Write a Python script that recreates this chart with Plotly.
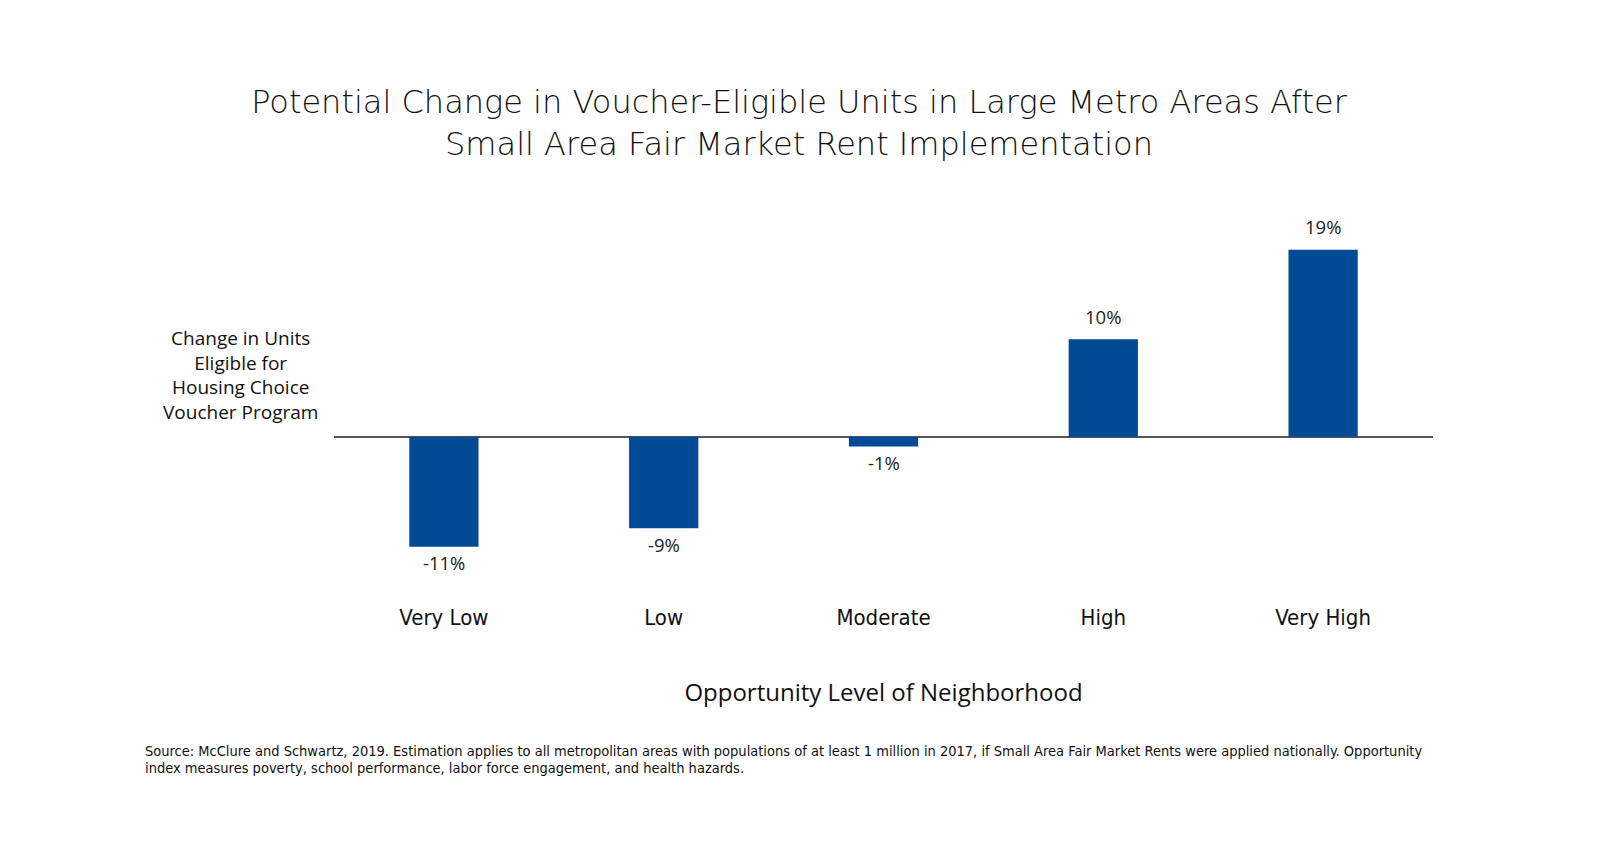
import plotly.graph_objects as go

categories = ["Very Low", "Low", "Moderate", "High", "Very High"]
values = [-11.2, -9.3, -1.0, 9.9, 19.0]
labels = ["-11%", "-9%", "-1%", "10%", "19%"]

title_text = "Potential Change in Voucher-Eligible Units in Large Metro Areas After<br>Small Area Fair Market Rent Implementation"
y_label = "Change in Units<br>Eligible for<br>Housing Choice<br>Voucher Program"
x_label = "Opportunity Level of Neighborhood"
source_lines = ["Source: McClure and Schwartz, 2019. Estimation applies to all metropolitan areas with populations of at least 1 million in 2017, if Small Area Fair Market Rents were applied nationally. Opportunity",
                "index measures poverty, school performance, labor force engagement, and health hazards."]

BASE = "'Open Sans', Lato, sans-serif"
TITLEF = "'DejaVu Sans', 'Open Sans', sans-serif"
COND = "'Liberation Sans Narrow', 'DejaVu Sans Condensed', 'Roboto Condensed', Roboto, sans-serif"

OFF = 8  # page body margin
L, R, T, B = 333.5 - OFF, 166.5 + OFF, 230 - OFF, 241.5 + OFF
PW, PH = 1600 - L - R, 841 - T - B

fig = go.Figure(go.Bar(
    x=categories, y=values,
    marker=dict(color="#024A96", line=dict(width=0)),
    width=0.315, hoverinfo="skip",
))

annotations = []
for c, v, t in zip(categories, values, labels):
    annotations.append(dict(x=c, y=v, text=t, showarrow=False, xanchor="center", yanchor="middle",
                            yshift=23 if v > 0 else -16,
                            font=dict(family=BASE, size=18.5, color="#222")))

annotations.append(dict(text=y_label, xref="paper", yref="paper", x=(240 - 8 - L) / PW, y=(T + PH - (375 - 8)) / PH,
                        xanchor="center", yanchor="middle", showarrow=False, align="center",
                        font=dict(family=BASE, size=19, color="#111")))
for i, line in enumerate(source_lines):
    ypx = 752 + 16.3 * i - 8
    annotations.append(dict(text=line, xref="paper", yref="paper", x=(142 - 8 - L) / PW, y=(T + PH - ypx) / PH,
                            xanchor="left", yanchor="middle", showarrow=False, align="left",
                            font=dict(family=COND, size=14.5, color="#111")))

fig.update_layout(
    width=1600, height=841,
    paper_bgcolor="white", plot_bgcolor="white",
    margin=dict(l=L, r=R, t=T, b=B),
    showlegend=False,
    title=dict(text=title_text, x=(799 - 8) / 1600, xanchor="center", xref="container",
               y=1 - 105 / 841, yanchor="middle", yref="container",
               font=dict(family=TITLEF, size=32, color="#111", weight=300)),
    xaxis=dict(range=[-0.5, 4.5], showline=False, showgrid=False, ticks="",
               ticklabelstandoff=3,
               tickfont=dict(family=COND, size=22, color="#111"),
               title=dict(text=x_label, standoff=55,
                          font=dict(family=BASE, size=24, color="#111"))),
    yaxis=dict(range=[-16.5, 21], showgrid=False, showticklabels=False, ticks="",
               showline=False, zeroline=True, zerolinecolor="#555", zerolinewidth=2),
    annotations=annotations,
)

fig.write_html("out.html")
